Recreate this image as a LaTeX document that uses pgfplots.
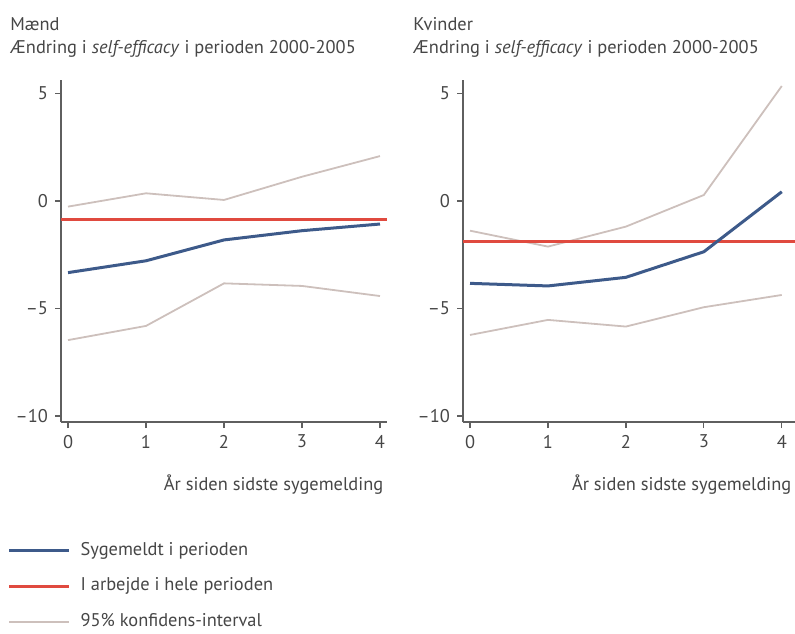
\documentclass[border=0pt]{standalone}
\usepackage{pgfplots}
\pgfplotsset{compat=1.18}
\usepackage{fontspec}
\setmainfont{PT Sans}
\definecolor{myblue}{RGB}{61,90,138}
\definecolor{myred}{RGB}{224,74,63}
\definecolor{ci}{RGB}{205,192,188}
\definecolor{txt}{RGB}{70,70,70}
\definecolor{spine}{RGB}{95,95,95}
\newcommand{\fs}{\fontsize{9.2}{11}\selectfont}
\pgfplotsset{
  panel/.style={
    scale only axis, height=171pt,
    xmin=-0.09, ymin=-10.28, ymax=5.63,
    axis lines=left, axis line style={-, spine, line width=0.6pt},
    xtick={0,1,2,3,4}, ytick={-10,-5,0,5}, yticklabels={–10,–5,0,5},
    tick align=outside, major tick length=3pt,
    tick style={spine, line width=0.6pt},
    tick label style={font=\fs, text=txt},
    /pgf/number format/assume math mode=true,
    xlabel={År siden sidste sygemelding},
    xlabel style={font=\fs, text=txt, at={(axis description cs:1.01,-0.2)}, anchor=base east},
    clip=false,
  },
  blueline/.style={myblue, line width=1.5pt},
  redline/.style={myred, line width=1.4pt},
  ciline/.style={ci, line width=0.9pt},
}
\begin{document}
\begin{tikzpicture}
\path[use as bounding box] (0pt,0pt) rectangle (397.5pt,316.5pt);
\begin{axis}[panel, width=163pt, xmax=4.09, at={(30.5pt,105.5pt)}, anchor=south west,
  legend style={at={(axis description cs:-0.165,-0.344)}, anchor=north west, draw=none, fill=none,
    font=\fs, text=txt, row sep=7.3pt, column sep=4pt, inner sep=0pt,
    nodes={inner sep=1pt, text height=6.5pt, text depth=2pt}},
  legend cell align=left,
  legend image code/.code={\draw[#1] (0pt,0pt) -- (30pt,0pt);}]
\addlegendimage{blueline}
\addlegendentry{Sygemeldt i perioden}
\addlegendimage{redline}
\addlegendentry{I arbejde i hele perioden}
\addlegendimage{ciline}
\addlegendentry{95\% konfidens-interval}
\addplot[ciline, forget plot] coordinates {(0,-0.26)(1,0.36)(2,0.05)(3,1.13)(4,2.09)};
\addplot[ciline, forget plot] coordinates {(0,-6.47)(1,-5.81)(2,-3.83)(3,-3.95)(4,-4.42)};
\addplot[redline, forget plot] coordinates {(-0.09,-0.85)(4.09,-0.85)};
\addplot[blueline, forget plot] coordinates {(0,-3.33)(1,-2.78)(2,-1.81)(3,-1.38)(4,-1.07)};
\end{axis}
\begin{axis}[panel, width=166pt, xmax=4.17, at={(231.5pt,105.5pt)}, anchor=south west]
\addplot[ciline] coordinates {(0,-1.38)(1,-2.12)(2,-1.19)(3,0.28)(4,5.35)};
\addplot[ciline] coordinates {(0,-6.23)(1,-5.53)(2,-5.84)(3,-4.94)(4,-4.37)};
\addplot[redline] coordinates {(-0.09,-1.9)(4.17,-1.9)};
\addplot[blueline] coordinates {(0,-3.83)(1,-3.95)(2,-3.55)(3,-2.36)(4,0.43)};
\end{axis}
\node[anchor=base west, font=\fs, text=txt, inner sep=0pt] at (5pt,301pt) {Mænd};
\node[anchor=base west, font=\fs, text=txt, inner sep=0pt] at (5pt,289.5pt) {Ændring i \textit{self-efficacy} i perioden 2000-2005};
\node[anchor=base west, font=\fs, text=txt, inner sep=0pt] at (206.5pt,301pt) {Kvinder};
\node[anchor=base west, font=\fs, text=txt, inner sep=0pt] at (206.5pt,289.5pt) {Ændring i \textit{self-efficacy} i perioden 2000-2005};
\end{tikzpicture}
\end{document}
